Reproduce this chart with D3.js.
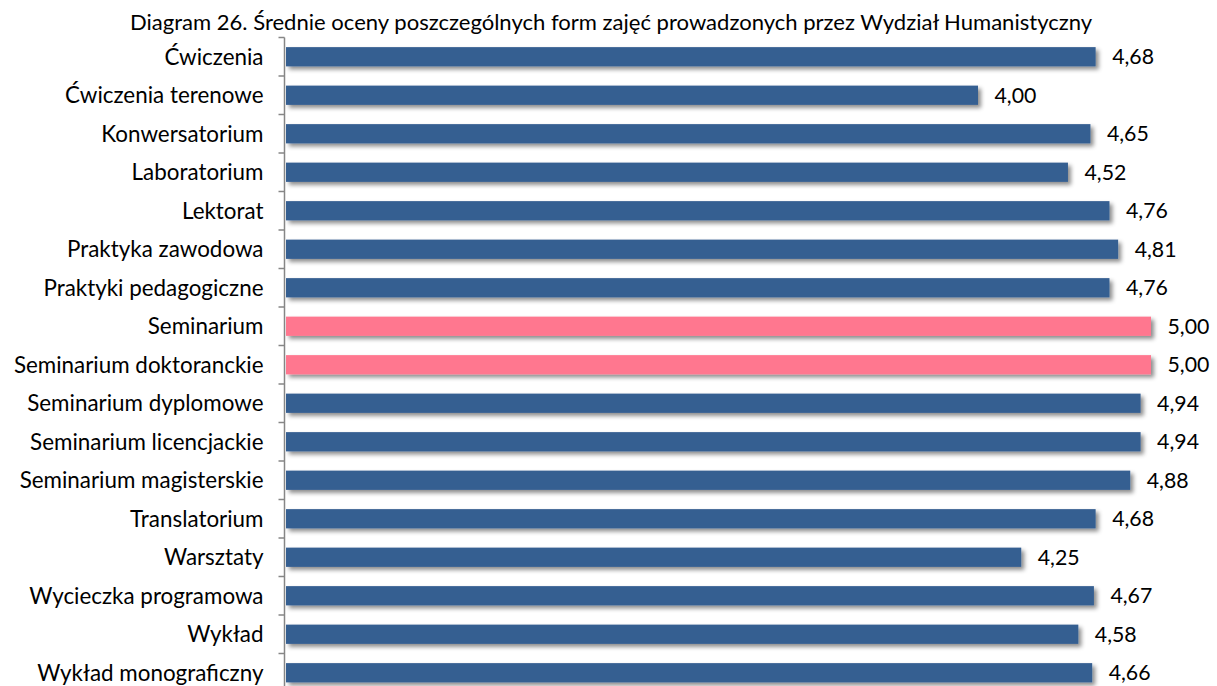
<!DOCTYPE html>
<html>
<head>
<meta charset="utf-8">
<script src="https://cdn.jsdelivr.net/npm/d3@7"></script>
<style>
  html, body { margin: 0; padding: 0; background: #ffffff; }
  svg { display: block; }
  text { font-family: Lato, "Open Sans", sans-serif; fill: #000; }
</style>
</head>
<body>
<svg id="chart" width="1217" height="686"></svg>
<script>
const title = "Diagram 26. Średnie oceny poszczególnych form zajęć prowadzonych przez Wydział Humanistyczny";
const categories = [
  "Ćwiczenia", "Ćwiczenia terenowe", "Konwersatorium", "Laboratorium", "Lektorat",
  "Praktyka zawodowa", "Praktyki pedagogiczne", "Seminarium", "Seminarium doktoranckie",
  "Seminarium dyplomowe", "Seminarium licencjackie", "Seminarium magisterskie",
  "Translatorium", "Warsztaty", "Wycieczka programowa", "Wykład", "Wykład monograficzny"
];
const values = [4.68, 4.00, 4.65, 4.52, 4.76, 4.81, 4.76, 5.00, 5.00, 4.94, 4.94, 4.88, 4.68, 4.25, 4.67, 4.58, 4.66];
const highlighted = ["Seminarium", "Seminarium doktoranckie"];
const xDomain = [0, 5];

const svg = d3.select("#chart");
const defs = svg.append("defs");
const f = defs.append("filter").attr("id", "shadow").attr("x", "-5%").attr("y", "-50%").attr("width", "115%").attr("height", "250%");
f.append("feDropShadow").attr("dx", 3).attr("dy", 3).attr("stdDeviation", 2.2)
  .attr("flood-color", "#000").attr("flood-opacity", 0.45);

const x = d3.scaleLinear().domain(xDomain).range([286, 1151]);
const y = d3.scaleBand().domain(categories).range([37.5, 37.5 + 17 * 38.5]).paddingInner(0.5).paddingOuter(0.25);

svg.append("text").attr("x", 611).attr("y", 30).attr("text-anchor", "middle")
  .style("font-size", "22.05px").text(title);

const data = categories.map((c, i) => ({ c, v: values[i] }));

svg.append("g").selectAll("rect").data(data).join("rect")
  .attr("x", x(0)).attr("y", d => y(d.c))
  .attr("width", d => x(d.v) - x(0)).attr("height", y.bandwidth())
  .attr("fill", d => highlighted.includes(d.c) ? "#FF778F" : "#355F91")
  .attr("filter", "url(#shadow)");

svg.append("g").selectAll("text").data(data).join("text")
  .attr("x", d => x(d.v) + 16.5).attr("y", d => y(d.c) + y.bandwidth() / 2)
  .attr("dy", "0.36em").style("font-size", "21.3px")
  .text(d => d3.format(".2f")(d.v).replace(".", ","));

// axis
const axisG = svg.append("g").attr("transform", `translate(${x(0) - 1.5},0)`);
const step = y.step();
const bounds = categories.map(c => y(c) - step * 0.25).concat([y(categories[categories.length - 1]) + step * 0.75]);
axisG.append("line").attr("x1", 0).attr("x2", 0).attr("y1", bounds[0]).attr("y2", bounds[bounds.length - 1])
  .attr("stroke", "#868686").attr("stroke-width", 1.5);
axisG.selectAll(".tk").data(bounds).join("line").attr("class", "tk")
  .attr("x1", -6).attr("x2", 0).attr("y1", d => d).attr("y2", d => d)
  .attr("stroke", "#868686").attr("stroke-width", 1.5);
axisG.selectAll(".lbl").data(data).join("text").attr("class", "lbl")
  .attr("x", -21).attr("y", d => y(d.c) + y.bandwidth() / 2).attr("dy", "0.36em")
  .attr("text-anchor", "end").style("font-size", "22.4px").text(d => d.c);
</script>
</body>
</html>
